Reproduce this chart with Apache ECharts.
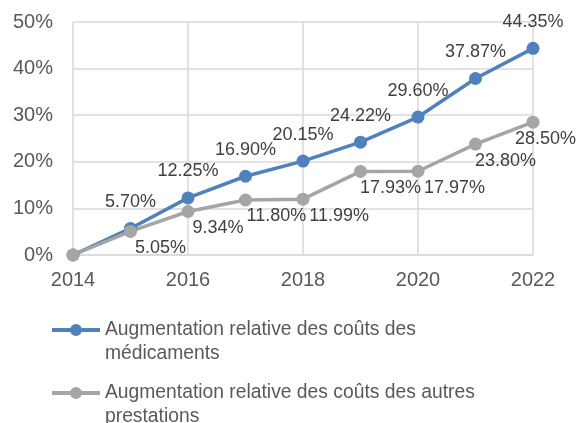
<!DOCTYPE html>
<html><head><meta charset="utf-8">
<script src="https://cdn.jsdelivr.net/npm/echarts@6/dist/echarts.min.js"></script>
<style>html,body{margin:0;padding:0;background:#fff}#c{width:577px;height:423px}</style>
</head><body><div id="c"></div>
<script>
const years = [2014, 2015, 2016, 2017, 2018, 2019, 2020, 2021, 2022];
const medicaments = [0, 5.70, 12.25, 16.90, 20.15, 24.22, 29.60, 37.87, 44.35];
const autres = [0, 5.05, 9.34, 11.80, 11.99, 17.93, 17.97, 23.80, 28.50];
const seriesNames = ['Augmentation relative des coûts des médicaments', 'Augmentation relative des coûts des autres prestations'];

const font = '"Liberation Sans", Arial, sans-serif';
const chart = echarts.init(document.getElementById('c'));
const pairs = arr => years.map((y, i) => [y, arr[i]]);
// legend icon: line + dot in the top part of a 48x36 box, so it sits beside the first text line
const legendIcon = 'path://M0 4.1L48 4.1L48 7.9L0 7.9Z M18 6A6 6 0 1 1 30 6A6 6 0 1 1 18 6Z M0 36L0.01 36Z';
const legendText = { color: '#595959', fontSize: 19.3, fontFamily: font, width: 400, overflow: 'break', lineHeight: 24 };
const pct = p => p.value[1] === 0 ? '' : p.value[1].toFixed(2) + '%';

// keep grey labels inside the canvas and push a label right when it would overlap the previous one
const placed = {};
function greyLabelLayout(p) {
  const r = p.labelRect;
  let x = r.x;
  const prev = placed[p.dataIndex - 1];
  if (prev && r.y < prev.y + prev.h && r.y + r.height > prev.y && x < prev.x + prev.w + 3) {
    x = prev.x + prev.w + 3;
  }
  x = Math.min(x, 576 - r.width);
  placed[p.dataIndex] = { x: x, y: r.y, w: r.width, h: r.height };
  return { x: x };
}

chart.setOption({
  animation: false,
  textStyle: { fontFamily: font },
  grid: { left: 73, right: 44, top: 22, bottom: 168 },
  xAxis: {
    type: 'value', min: 2014, max: 2022, interval: 2,
    axisLine: { lineStyle: { color: '#D9D9D9', width: 1.5 } },
    axisTick: { show: false },
    splitLine: { show: true, lineStyle: { color: '#D9D9D9', width: 1.5 } },
    axisLabel: { color: '#595959', fontSize: 20, fontFamily: font, margin: 15, formatter: v => String(v) }
  },
  yAxis: {
    type: 'value', min: 0, max: 50, interval: 10,
    axisLine: { show: false }, axisTick: { show: false },
    splitLine: { lineStyle: { color: '#D9D9D9', width: 1.5 } },
    axisLabel: { color: '#595959', fontSize: 20, fontFamily: font, margin: 20, formatter: '{value}%' }
  },
  legend: [
    { left: 47, top: 313, itemWidth: 48, itemHeight: 36, icon: legendIcon, textStyle: legendText, data: [seriesNames[0]] },
    { left: 47, top: 376, itemWidth: 48, itemHeight: 36, icon: legendIcon, textStyle: legendText, data: [seriesNames[1]] }
  ],
  series: [
    {
      name: seriesNames[0], type: 'line', data: pairs(medicaments),
      symbol: 'circle', symbolSize: 13,
      lineStyle: { color: '#4F81BD', width: 3.5 },
      itemStyle: { color: '#4F81BD' },
      label: { show: true, position: 'top', distance: 11, color: '#404040', fontSize: 18, fontFamily: font, formatter: pct }
    },
    {
      name: seriesNames[1], type: 'line', data: pairs(autres),
      symbol: 'circle', symbolSize: 13,
      lineStyle: { color: '#A5A5A5', width: 3.5 },
      itemStyle: { color: '#A5A5A5' },
      label: { show: true, position: 'bottom', distance: 1, offset: [30, 0], color: '#404040', fontSize: 18, fontFamily: font, formatter: pct },
      labelLayout: greyLabelLayout
    }
  ]
});
</script></body></html>
